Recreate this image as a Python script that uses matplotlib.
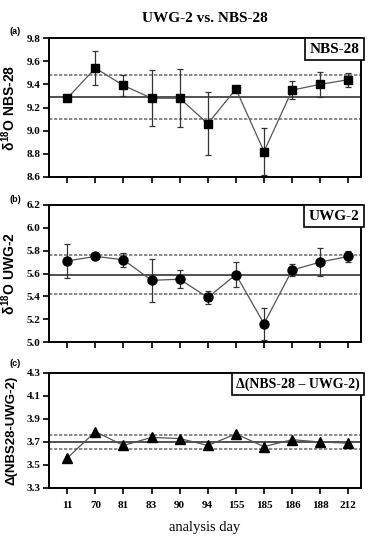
import numpy as np
import matplotlib
matplotlib.use("Agg")
import matplotlib.pyplot as plt

# dati
days = ["11", "70", "81", "83", "90", "94", "155", "185", "186", "188", "212"]

nbs28 = [9.28, 9.54, 9.39, 9.28, 9.28, 9.06, 9.36, 8.82, 9.35, 9.40, 9.44]
nbs28_err = [0.01, 0.15, 0.09, 0.24, 0.25, 0.27, 0.0, 0.20, 0.08, 0.11, 0.06]
nbs28_lines = [9.29, 9.48, 9.10]

uwg2 = [5.71, 5.75, 5.72, 5.54, 5.55, 5.39, 5.59, 5.16, 5.63, 5.70, 5.75]
uwg2_err = [0.15, 0.0, 0.06, 0.19, 0.08, 0.06, 0.11, 0.14, 0.05, 0.12, 0.05]
uwg2_lines = [5.59, 5.76, 5.42]

delta = [3.56, 3.79, 3.67, 3.74, 3.73, 3.67, 3.77, 3.66, 3.72, 3.70, 3.69]
delta_lines = [3.70, 3.76, 3.64]

plt.rcParams['font.family'] = 'Liberation Serif'
plt.rcParams['font.weight'] = 'bold'
plt.rcParams['mathtext.fontset'] = 'custom'
plt.rcParams['mathtext.rm'] = 'Liberation Sans:bold'
plt.rcParams['mathtext.it'] = 'Liberation Sans:bold'

W, H = 371, 540
fig = plt.figure(figsize=(W / 100, H / 100), dpi=100)

def ax_at(left, top, right, bottom):
    return fig.add_axes([left / W, 1 - bottom / H, (right - left) / W, (bottom - top) / H])

panels = [
    dict(box=(49, 38, 361, 177), y=nbs28, err=nbs28_err, lines=nbs28_lines, marker='s', ms=5.5,
         ylim=(8.6, 9.8), yt=np.arange(8.6, 9.81, 0.2), lab='(a)', laby=32,
         ylabel=r'$\delta^{18}$O NBS-28', yfs=10, box_txt='NBS-28', bfs=11),
    dict(box=(49, 205, 361, 342), y=uwg2, err=uwg2_err, lines=uwg2_lines, marker='o', ms=6.5,
         ylim=(5.0, 6.2), yt=np.arange(5.0, 6.21, 0.2), lab='(b)', laby=200,
         ylabel=r'$\delta^{18}$O UWG-2', yfs=10, box_txt='UWG-2', bfs=11),
    dict(box=(49, 373, 361, 488), y=delta, err=None, lines=delta_lines, marker='^', ms=6.5,
         ylim=(3.3, 4.3), yt=np.arange(3.3, 4.31, 0.2), lab='(c)', laby=364,
         ylabel='Δ(NBS28-UWG-2)', yfs=9.5, box_txt='Δ(NBS-28 – UWG-2)', bfs=10),
]

x = np.arange(len(days))
for i, p in enumerate(panels):
    ax = ax_at(*p['box'])
    # linee media e +/- sigma
    ax.axhline(p['lines'][0], color='#333333', lw=1.2, zorder=1)
    ax.axhline(p['lines'][1], color='#777777', lw=1.2, ls=(0, (2, 1)), zorder=1)
    ax.axhline(p['lines'][2], color='#777777', lw=1.2, ls=(0, (2, 1)), zorder=1)
    if p['err'] is not None:
        ax.errorbar(x, p['y'], yerr=p['err'], fmt='none', ecolor='#333333', elinewidth=0.9,
                    capsize=2.5, capthick=0.9, zorder=2)
    ax.plot(x, p['y'], color='#555555', lw=0.9, marker=p['marker'], ms=p['ms'],
            mfc='black', mec='black', zorder=3)
    ax.set_xlim(-0.65, 10.45)
    ax.set_ylim(*p['ylim'])
    ax.set_yticks(p['yt'])
    ax.set_yticklabels([f'{v:.1f}' for v in p['yt']])
    ax.set_xticks(x)
    if i == 2:
        ax.set_xticklabels(days, fontsize=8)
        ax.set_xlabel('analysis day', fontsize=10.5, labelpad=8)
    else:
        ax.set_xticklabels([])
    ax.tick_params(direction='out', length=4, width=1.2, labelsize=8, pad=2, right=False, top=False)
    ax.tick_params(axis='x', pad=5)
    for s in ax.spines.values():
        s.set_linewidth(1.4)
    ax.set_ylabel(p['ylabel'], fontsize=p['yfs'], family='Liberation Sans', fontweight='bold')
    ax.yaxis.set_label_coords(-31 / (p['box'][2] - p['box'][0]), 0.5)
    ax.text(0.995, 0.965, p['box_txt'], transform=ax.transAxes, ha='right', va='top', fontsize=p['bfs'],
            bbox=dict(boxstyle='square,pad=0.3', fc='white', ec='black', lw=1.2), zorder=5)
    fig.text(9 / W, 1 - p['laby'] / H, p['lab'], fontsize=6.5, ha='left', va='center',
             family='Liberation Sans', fontweight='bold')

fig.text(205 / W, 1 - 18 / H, 'UWG-2 vs. NBS-28', ha='center', va='center', fontsize=11)

fig.savefig('out.png', dpi=100)
